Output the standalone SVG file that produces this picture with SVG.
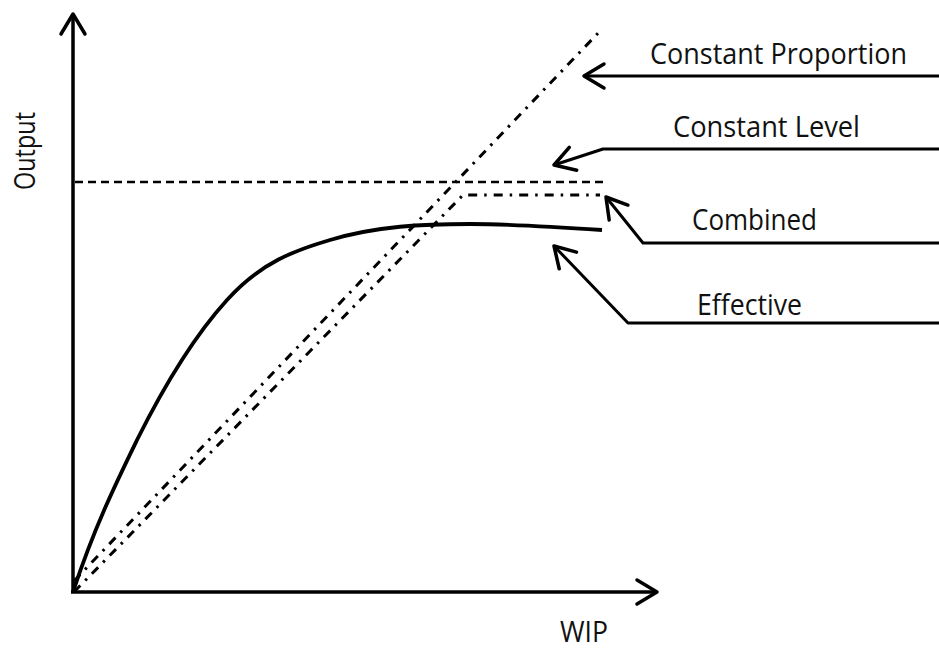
<svg xmlns="http://www.w3.org/2000/svg" width="939" height="649" viewBox="0 0 939 649">
  <style>
    .axis { fill: none; stroke: #000; stroke-width: 3.5; stroke-linecap: butt; }
    .lbl { font-family: "Open Sans", "Liberation Sans", sans-serif; font-size: 29px; fill: #111; }
    .lead { fill: none; stroke: #000; stroke-width: 3; stroke-linejoin: round; }
    .level { fill: none; stroke: #000; stroke-width: 2.5; stroke-dasharray: 8 5; }
    .dashdot { fill: none; stroke: #000; stroke-width: 3; stroke-dasharray: 9 7 2.5 7; }
    .effective { fill: none; stroke: #000; stroke-width: 3.8; stroke-linecap: butt; }
  </style>
  <defs>
    <marker id="open-arrow" markerUnits="userSpaceOnUse" viewBox="-24 -15 28 30" refX="0" refY="0" markerWidth="28" markerHeight="30" orient="auto" overflow="visible">
      <path d="M -20 -12 L 0 0 L -20 12" fill="none" stroke="#000" stroke-width="3.5" stroke-linejoin="round" stroke-linecap="round"/>
    </marker>
  </defs>

  <rect width="939" height="649" fill="#fff"/>

  <!-- coordinate axes -->
  <g id="axes">
    <path class="axis" d="M 73 592 L 73 14" marker-end="url(#open-arrow)"/>
    <path class="axis" d="M 71 592 L 657 592" marker-end="url(#open-arrow)"/>
    <text class="lbl" x="560" y="642" textLength="48" lengthAdjust="spacingAndGlyphs">WIP</text>
    <text class="lbl" transform="translate(35,190) rotate(-90)" x="0" y="0" textLength="78" lengthAdjust="spacingAndGlyphs">Output</text>
  </g>

  <!-- capacity models -->
  <g id="constant-level">
    <path class="level" d="M 75 182 L 603 182"/>
  </g>
  <g id="constant-proportion">
    <path class="dashdot" d="M 74 581 L 602 29"/>
  </g>
  <g id="combined">
    <path class="dashdot" d="M 74 592 L 463 195 L 600 195"/>
  </g>
  <g id="effective">
    <path class="effective" d="M 73 592 C 94 528 116 483 137 440 C 167 380 197 333 227 300 C 261 262 296 250 330 240 C 377 226 423 224 470 224 C 514 224 558 227 602 230"/>
  </g>

  <!-- label nodes -->
  <g id="label-constant-proportion">
    <text class="lbl" x="650" y="64" textLength="257" lengthAdjust="spacingAndGlyphs">Constant Proportion</text>
  </g>
  <g id="label-constant-level">
    <text class="lbl" x="673" y="137" textLength="187" lengthAdjust="spacingAndGlyphs">Constant Level</text>
  </g>
  <g id="label-combined">
    <text class="lbl" x="692" y="230" textLength="125" lengthAdjust="spacingAndGlyphs">Combined</text>
  </g>
  <g id="label-effective">
    <text class="lbl" x="697" y="315" textLength="105" lengthAdjust="spacingAndGlyphs">Effective</text>
  </g>

  <!-- leader arrows from labels to curves -->
  <g id="connectors">
    <path class="lead" d="M 939 76 L 584 76" marker-end="url(#open-arrow)"/>
    <path class="lead" d="M 939 149 L 603 149 L 554 165" marker-end="url(#open-arrow)"/>
    <path class="lead" d="M 939 243 L 643 243 L 606 197" marker-end="url(#open-arrow)"/>
    <path class="lead" d="M 939 323 L 628 323 L 554 246" marker-end="url(#open-arrow)"/>
  </g>
</svg>
